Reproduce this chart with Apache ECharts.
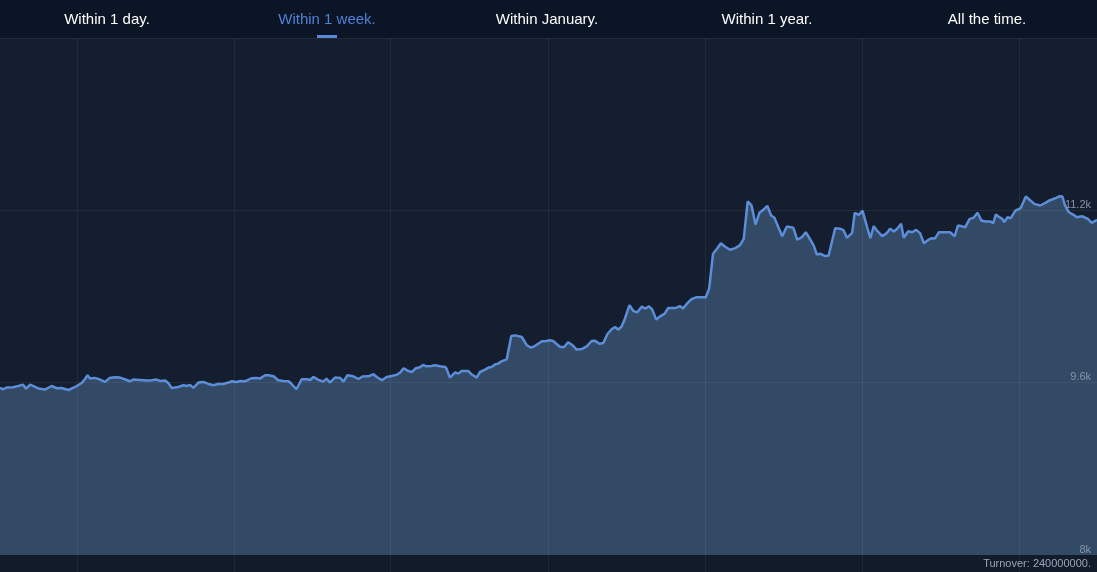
<!DOCTYPE html>
<html>
<head>
<meta charset="utf-8">
<script src="https://cdn.jsdelivr.net/npm/echarts@6/dist/echarts.min.js"></script>
<style>
html,body{margin:0;padding:0;background:#141e2e;}
#c{width:1097px;height:572px;}
</style>
</head>
<body>
<div id="c"></div>
<script>
// ---- data ----
const tabs = ['Within 1 day.', 'Within 1 week.', 'Within January.', 'Within 1 year.', 'All the time.'];
const activeTab = 1;
const yTicks = [8000, 9600, 11200, 12800];
const turnover = 240000000;
// day boundaries (midnights), hours from window start
const dayStarts = [11.8, 35.8, 59.8, 83.85, 107.9, 131.95, 156.0];
// time in hours since window start (one week window)
const hours = [
  0.0,0.5,1.0,2.0,2.8,3.5,4.0,4.6,5.4,5.9, 6.9,7.9,8.7,9.4,10.5,11.5,12.5,13.0,13.4,13.8,
  14.5,15.3,16.1,16.8,17.6,18.4,19.1,19.9,20.4,21.4, 22.5,23.2,24.0,24.5,25.3,25.8,26.3,27.3,28.1,28.6,
  29.1,29.6,30.4,31.1,31.9,32.7,33.4,34.2,35.0,35.5, 36.2,36.8,37.5,38.0,38.5,39.3,39.8,40.6,41.1,41.9,
  42.6,43.4,44.2,44.7,45.4,46.2,47.0,47.5,48.0,48.7, 49.5,50.0,50.5,51.3,52.1,52.6,53.2,54.1,54.9,55.5,
  56.4,57.2,57.7,58.5,59.2,60.0,60.8,61.3,61.8,62.5, 63.1,63.6,64.3,64.8,65.3,66.1,66.6,67.4,68.2,68.4,
  68.9,69.7,70.2,70.7,71.7,72.2,73.0,73.5,74.3,74.8, 75.3,75.8,76.3,76.8,77.6,78.3,78.9,79.9,80.7,81.3,
  81.9,83.0,83.5,84.2,
  84.7,85.3,85.8,86.4,87.0,87.7,88.3,89.1,89.9,90.6, 91.1,91.8,92.4,93.0,93.7,94.2,94.7,95.2,95.7,96.4,
  97.0,97.6,98.3,98.8,99.4,99.9,100.5,101.1,101.8,102.3, 103.1,103.6,104.1,104.6,105.2,105.9,106.7,107.5,108.1,108.6,
  109.2,109.8,110.4,111.0,111.8,112.6,113.3,113.9,114.5,115.1, 115.7,116.3,116.9,117.5,118.1,118.6,119.2,119.8,120.5,121.5,
  122.1,122.8,123.4,124.1,124.6,125.1,125.6,126.4,126.9,
  127.9,128.7,129.2,129.7,130.5,130.9,131.5,132.1,132.8,133.3, 133.8,134.3,135.1,135.8,136.3,136.9,137.4,138.0,138.4,139.1,
  139.7,140.3,140.9,141.5,142.2,142.7,143.2,143.8,144.8,145.5, 146.2,146.7,147.3,147.8,148.5,149.1,149.7,150.3,150.9,151.7,
  152.1,152.5,152.9,153.5,153.8,154.3,154.8,155.5,156.3,157.1, 157.8,158.4,159.3,160.1,160.8,161.6,162.3,162.7,163.1,163.7,
  164.4,164.9,165.7,166.6,167.2,168.0
];
const values = [
  9551,9539,9555,9557,9569,9582,9545,9582,9560,9545, 9536,9569,9548,9551,9532,9560,9597,9632,9669,9638,
  9644,9629,9607,9644,9650,9647,9632,9613,9629,9625, 9620,9622,9629,9616,9620,9594,9551,9560,9576,9569,
  9579,9551,9601,9607,9588,9576,9588,9588,9601,9613, 9607,9616,9613,9625,9641,9644,9638,9669,9669,9659,
  9622,9616,9613,9585,9539,9632,9632,9625,9653,9629, 9610,9638,9601,9647,9644,9610,9669,9659,9634,9657,
  9659,9678,9653,9622,9653,9662,9675,9694,9734,9709, 9699,9731,9743,9764,9752,9755,9761,9752,9746,9727,
  9647,9696,9684,9709,9709,9678,9647,9699,9721,9740, 9746,9768,9777,9798,9817,10033,10039,10024,9947,9925,
  9940,9984,9984,9993,
  9987,9956,9931,9931,9975,9947,9907,9912,9940,9987, 9990,9962,9968,10049,10098,10116,10092,10123,10194,10320,
  10265,10253,10308,10287,10308,10278,10185,10216,10241,10293, 10293,10296,10311,10290,10333,10376,10394,10394,10394,10472,
  10797,10843,10895,10864,10834,10849,10874,10936,11282,11245, 11068,11177,11205,11242,11152,11131,11043,10960,11050,11038,
  10927,10951,10997,10927,10874,10790,10797,10775,10781,
  11034,11029,11013,10945,10991,11177,11158,11195,11043,10941, 11053,11013,10960,10988,11029,11003,11029,11075,10945,11006,
  10997,11019,10988,10895,10927,10941,10939,10997,10997,10997, 10960,11059,11053,11041,11121,11131,11177,11105,11096,11096,
  11080,11161,11143,11121,11090,11136,11127,11198,11220,11328, 11291,11260,11245,11270,11294,11312,11331,11328,11245,11182,
  11158,11136,11145,11121,11084,11112
];

// ---- chart ----
const FONT = 'Arial, "Liberation Sans", sans-serif';
const chart = echarts.init(document.getElementById('c'), null, {renderer: 'canvas'});
const W = 1097, H = 572, TOPBAR = 38, BOTTOMBAR = 17, TABW = 220, TAB0 = 107;

const staticEls = [
  {type: 'rect', id: 'bottomBar', z: 10, silent: true,
   shape: {x: 0, y: H - BOTTOMBAR, width: W, height: BOTTOMBAR}, style: {fill: '#111b2a'}},
  {type: 'rect', id: 'topBar', z: 12, silent: true,
   shape: {x: 0, y: 0, width: W, height: TOPBAR}, style: {fill: '#0b1526'}},
  {type: 'rect', id: 'underline', z: 13, silent: true,
   shape: {x: TAB0 + TABW * activeTab - 10, y: TOPBAR - 3, width: 20, height: 3}, style: {fill: '#5a88d6'}},
  {type: 'text', id: 'turnover', z: 13, silent: true, x: W - 6, y: H - BOTTOMBAR / 2 + 0.5,
   style: {text: 'Turnover: ' + turnover + '.', fill: '#9aa6b8', font: '11px ' + FONT,
           textAlign: 'right', textVerticalAlign: 'middle'}}
].concat(tabs.map((t, i) => ({
  type: 'text', id: 'tab' + i, z: 13, silent: true, x: TAB0 + TABW * i, y: 20,
  style: {text: t, fill: i === activeTab ? '#4f80d6' : '#ffffff', font: '15px ' + FONT,
          textAlign: 'center', textVerticalAlign: 'middle'}
})));

const option = {
  backgroundColor: '#141e2e',
  animation: false,
  grid: {left: 0, right: 0, top: TOPBAR, bottom: BOTTOMBAR},
  xAxis: {type: 'value', min: 0, max: 168, show: false},
  yAxis: {
    type: 'value', position: 'right', z: 3,
    min: yTicks[0], max: yTicks[yTicks.length - 1], interval: yTicks[1] - yTicks[0],
    axisLine: {show: false}, axisTick: {show: false},
    splitLine: {show: true, lineStyle: {color: 'rgba(255,255,255,0.06)', width: 1}},
    axisLabel: {
      inside: true, showMaxLabel: false, align: 'right', verticalAlign: 'bottom', margin: 6,
      color: '#8794a8', fontSize: 11, fontFamily: FONT,
      formatter: v => (v / 1000) + 'k'
    }
  },
  series: [{
    type: 'line',
    data: hours.map((h, i) => [h, values[i]]),
    showSymbol: false, symbol: 'none', z: 2,
    lineStyle: {color: '#5b8dd8', width: 2.5},
    areaStyle: {color: '#334a66', opacity: 1, origin: 'start'}
  }],
  graphic: {elements: staticEls}
};
chart.setOption(option);

const dayLines = dayStarts.map((d, i) => {
  const x = Math.round(chart.convertToPixel({xAxisIndex: 0}, d)) + 0.5;
  return {type: 'line', id: 'day' + i, z: 11, silent: true,
          shape: {x1: x, y1: TOPBAR, x2: x, y2: H},
          style: {stroke: 'rgba(255,255,255,0.06)', lineWidth: 1}};
});
chart.setOption({graphic: {elements: staticEls.concat(dayLines)}});
</script>
</body>
</html>
